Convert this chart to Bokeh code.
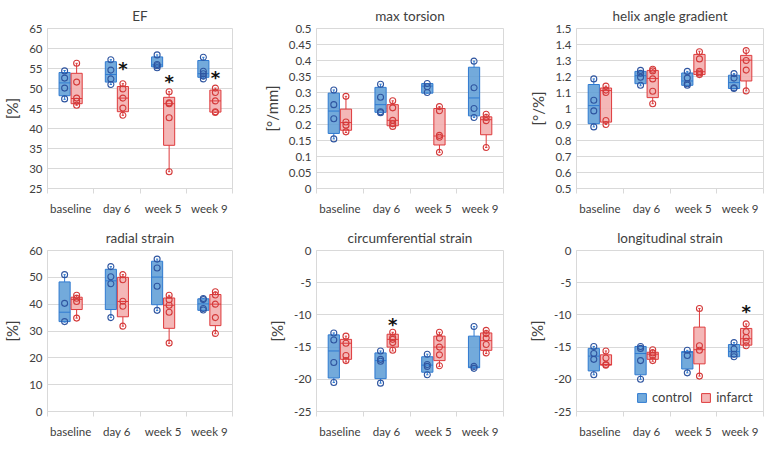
from bokeh.plotting import figure
from bokeh.layouts import gridplot
from bokeh.models import (FixedTicker, CustomJSTickFormatter, Range1d, Legend, LegendItem)
from bokeh.core.properties import value
from bokeh.embed import file_html
from bokeh.resources import INLINE

CATEGORIES = ["baseline", "day 6", "week 5", "week 9"]

# box stats per category: (low, q1, median, q3, high)
EF_CTRL_BOX = [(47.3, 48.2, 51.4, 54.0, 54.5), (51.0, 51.6, 53.5, 56.7, 57.2),
               (55.1, 55.4, 55.9, 57.9, 58.4), (52.4, 52.8, 53.7, 57.0, 57.8)]
EF_CTRL_PTS = [[54.4, 52.6, 50.1, 47.4], [57.2, 54.6, 52.4, 51.0],
               [58.4, 56.0, 55.7, 55.2], [57.8, 54.3, 53.7, 53.1, 52.4]]
EF_INF_BOX = [(45.8, 46.2, 47.5, 53.8, 56.3), (43.3, 44.2, 47.6, 50.5, 51.2),
              (29.2, 35.8, 46.2, 47.8, 49.2), (44.0, 44.1, 46.9, 49.6, 50.1)]
EF_INF_PTS = [[56.3, 51.6, 47.6, 46.8, 45.8], [51.2, 49.9, 47.6, 45.1, 43.3],
              [49.2, 46.4, 46.2, 42.7, 29.2], [50.1, 49.0, 46.9, 44.2, 44.0]]
EF_STARS = [(1, 56.0), (2, 52.8), (3, 53.7)]

TOR_CTRL_BOX = [(0.155, 0.172, 0.242, 0.298, 0.308), (0.237, 0.238, 0.262, 0.316, 0.326),
                (0.298, 0.298, 0.320, 0.328, 0.328), (0.222, 0.227, 0.283, 0.379, 0.398)]
TOR_CTRL_PTS = [[0.308, 0.262, 0.218, 0.155], [0.326, 0.285, 0.240, 0.237],
                [0.328, 0.318, 0.300], [0.398, 0.315, 0.250, 0.222]]
TOR_INF_BOX = [(0.175, 0.182, 0.206, 0.248, 0.288), (0.194, 0.196, 0.213, 0.262, 0.274),
               (0.113, 0.136, 0.164, 0.250, 0.256), (0.128, 0.168, 0.215, 0.224, 0.232)]
TOR_INF_PTS = [[0.288, 0.208, 0.198, 0.177], [0.274, 0.252, 0.213, 0.202, 0.194],
               [0.256, 0.243, 0.166, 0.160, 0.113], [0.232, 0.222, 0.212, 0.128]]

HEL_CTRL_BOX = [(0.885, 0.905, 1.018, 1.150, 1.185), (1.142, 1.155, 1.205, 1.232, 1.238),
                (1.142, 1.145, 1.172, 1.222, 1.232), (1.122, 1.125, 1.162, 1.208, 1.218)]
HEL_CTRL_PTS = [[1.185, 1.052, 0.985, 0.885], [1.238, 1.220, 1.195, 1.145],
                [1.232, 1.190, 1.155, 1.145], [1.218, 1.190, 1.130, 1.125]]
HEL_INF_BOX = [(0.900, 0.915, 1.112, 1.128, 1.140), (1.030, 1.068, 1.188, 1.238, 1.245),
               (1.210, 1.212, 1.230, 1.338, 1.358), (1.110, 1.172, 1.302, 1.332, 1.365)]
HEL_INF_PTS = [[1.140, 1.115, 1.100, 0.925, 0.900], [1.245, 1.235, 1.185, 1.108, 1.030],
               [1.355, 1.310, 1.232, 1.222, 1.212], [1.362, 1.300, 1.240, 1.110]]

RAD_CTRL_BOX = [(33.3, 33.5, 37.0, 48.3, 51.0), (35.0, 38.0, 48.7, 53.0, 54.0),
                (37.6, 39.8, 50.1, 56.0, 56.8), (37.5, 37.7, 40.1, 42.0, 42.1)]
RAD_CTRL_PTS = [[51.0, 40.3, 33.5], [54.0, 50.2, 47.6, 35.0],
                [56.8, 53.5, 46.7, 37.7], [42.1, 41.7, 38.4, 37.8]]
RAD_INF_BOX = [(34.8, 38.0, 41.8, 42.6, 43.3), (31.8, 35.3, 41.0, 50.0, 51.0),
               (25.4, 31.0, 39.6, 42.3, 43.3), (29.0, 32.0, 40.0, 43.6, 44.6)]
RAD_INF_PTS = [[43.3, 42.2, 41.0, 34.8], [51.0, 49.1, 41.1, 39.2, 31.8],
               [43.3, 41.6, 39.6, 37.0, 25.5], [44.6, 43.4, 40.0, 35.0, 29.1]]

CIR_CTRL_BOX = [(-20.5, -19.8, -15.6, -13.1, -12.8), (-20.6, -19.9, -17.1, -15.9, -15.6),
                (-19.3, -18.9, -17.8, -16.5, -16.1), (-18.3, -18.2, -18.1, -13.3, -11.8)]
CIR_CTRL_PTS = [[-12.8, -13.9, -17.4, -20.5], [-15.6, -16.9, -17.2, -20.6],
                [-16.1, -17.7, -18.0, -19.3], [-11.8, -18.0, -18.3]]
CIR_INF_BOX = [(-17.3, -16.9, -14.4, -13.8, -13.3), (-15.6, -15.0, -13.8, -13.0, -12.7),
               (-18.0, -17.1, -15.0, -13.3, -12.7), (-16.0, -15.5, -14.0, -12.8, -12.4)]
CIR_INF_PTS = [[-13.3, -14.4, -16.3, -17.1], [-12.7, -13.5, -13.8, -14.3, -15.5],
               [-12.7, -13.6, -15.0, -16.2, -17.9], [-12.4, -12.9, -13.6, -14.6, -15.9]]
CIR_STARS = [(1, -10.9)]

LON_CTRL_BOX = [(-19.3, -18.7, -16.4, -15.2, -14.9), (-20.0, -19.3, -16.0, -14.9, -14.9),
                (-19.0, -18.4, -15.8, -15.7, -15.5), (-16.5, -16.5, -15.7, -14.6, -14.3)]
LON_CTRL_PTS = [[-14.9, -16.0, -16.9, -19.3], [-14.9, -15.2, -17.1, -20.0],
                [-15.5, -16.3, -19.0], [-14.3, -15.3, -16.1, -16.5]]
LON_INF_BOX = [(-17.9, -17.8, -17.7, -16.2, -15.6), (-17.2, -16.9, -16.1, -15.8, -15.4),
               (-19.5, -17.6, -15.4, -11.9, -9.0), (-14.8, -14.7, -13.7, -12.1, -11.4)]
LON_INF_PTS = [[-15.6, -16.7, -17.7, -17.8], [-15.4, -15.9, -16.3, -17.1],
               [-9.0, -14.8, -15.5, -19.5], [-11.4, -12.6, -13.5, -14.1, -14.8]]
LON_STARS = [(3, -8.8)]

FONT = "Lato"
TXT = "#404040"
GRID = "#d9d9d9"
CTRL_FILL, CTRL_LINE, CTRL_PT = "#5b9bd5", "#2f7ad0", "#2f55a0"
INF_FILL, INF_LINE, INF_PT = "#f2aaaa", "#de3a3c", "#d43a3a"
BW = 0.24
CW = 0.05


def tick_list(lo, hi, step):
    n = int(round((hi - lo) / step))
    return [round(lo + i * step, 4) for i in range(n + 1)]


def draw_group(p, box, pts, off, fill, line, ptcol):
    xs = [i + 0.5 + off for i in range(len(box))]
    low = [b[0] for b in box]
    q1 = [b[1] for b in box]
    med = [b[2] for b in box]
    q3 = [b[3] for b in box]
    high = [b[4] for b in box]
    p.segment(x0=xs, y0=q3, x1=xs, y1=high, line_color=line, line_width=1)
    p.segment(x0=xs, y0=q1, x1=xs, y1=low, line_color=line, line_width=1)
    p.segment(x0=[x - CW / 2 for x in xs], y0=high, x1=[x + CW / 2 for x in xs], y1=high,
              line_color=line, line_width=1)
    p.segment(x0=[x - CW / 2 for x in xs], y0=low, x1=[x + CW / 2 for x in xs], y1=low,
              line_color=line, line_width=1)
    r = p.vbar(x=xs, width=BW, bottom=q1, top=q3, fill_color=fill, fill_alpha=0.85,
               line_color=line, line_width=1)
    p.segment(x0=[x - BW / 2 for x in xs], y0=med, x1=[x + BW / 2 for x in xs], y1=med,
              line_color=line, line_width=1)
    px, py = [], []
    for x, vals in zip(xs, pts):
        for v in vals:
            px.append(x)
            py.append(v)
    p.scatter(px, py, marker="circle", size=6, fill_alpha=0, line_color=ptcol, line_width=1.1)
    return r


def panel(title, ylabel, lo, hi, step, cbox, cpts, ibox, ipts, stars, w, h, bl, br, bt, bb,
          legend=False):
    p = figure(width=w, height=h, output_backend="svg", toolbar_location=None,
               x_range=Range1d(0, 4), y_range=Range1d(lo, hi),
               min_border_left=bl, min_border_right=br, min_border_top=bt, min_border_bottom=bb)
    p.title.text = title
    p.title.align = "center"
    p.title.text_font = FONT
    p.title.text_font_size = "13.5px"
    p.title.text_font_style = "normal"
    p.title.text_color = TXT
    p.outline_line_color = GRID
    p.background_fill_color = "white"
    p.border_fill_color = "white"
    p.xgrid.visible = False
    p.ygrid.grid_line_color = GRID
    p.ygrid.grid_line_width = 1.2

    ticks = tick_list(lo, hi, step)
    p.yaxis.ticker = FixedTicker(ticks=ticks)
    p.ygrid.ticker = FixedTicker(ticks=ticks)
    p.yaxis.formatter = CustomJSTickFormatter(code="return String(Math.round(tick*1000)/1000);")
    p.yaxis.axis_label = ylabel
    p.yaxis.axis_label_text_font = FONT
    p.yaxis.axis_label_text_font_size = "15px"
    p.yaxis.axis_label_text_font_style = "normal"
    p.yaxis.axis_label_text_color = TXT
    p.yaxis.axis_label_standoff = 5
    p.yaxis.major_label_text_font = FONT
    p.yaxis.major_label_text_font_size = "11.5px"
    p.yaxis.major_label_text_color = TXT
    p.yaxis.axis_line_color = GRID
    p.yaxis.major_tick_line_color = None
    p.yaxis.major_tick_out = 0
    p.yaxis.minor_tick_line_color = None
    p.yaxis.minor_tick_out = 0
    p.yaxis.major_label_standoff = 5

    p.xaxis.ticker = FixedTicker(ticks=[i + 0.5 for i in range(len(CATEGORIES))],
                                 minor_ticks=list(range(len(CATEGORIES) + 1)))
    p.xaxis.formatter = CustomJSTickFormatter(args=dict(cats=CATEGORIES),
                                              code="return cats[Math.floor(tick)];")
    p.xaxis.major_label_text_font = FONT
    p.xaxis.major_label_text_font_size = "11.5px"
    p.xaxis.major_label_text_color = TXT
    p.xaxis.axis_line_color = GRID
    p.xaxis.major_tick_line_color = None
    p.xaxis.major_tick_out = 0
    p.xaxis.minor_tick_line_color = GRID
    p.xaxis.minor_tick_out = 5
    p.xaxis.minor_tick_in = 0
    p.xaxis.major_label_standoff = 8

    rc = draw_group(p, cbox, cpts, -0.13, CTRL_FILL, CTRL_LINE, CTRL_PT)
    ri = draw_group(p, ibox, ipts, 0.13, INF_FILL, INF_LINE, INF_PT)

    if stars:
        p.text(x=[s[0] + 0.5 + 0.13 for s in stars], y=[s[1] for s in stars],
               text=["*"] * len(stars), text_align="center", text_baseline="middle",
               text_font=value("DejaVu Sans"), text_font_size="18px", text_font_style="bold",
               text_color="#111111", y_offset=4)

    if legend:
        lg = Legend(items=[LegendItem(label="control", renderers=[rc]),
                           LegendItem(label="infarct", renderers=[ri])],
                    orientation="horizontal", location=(58, 4),
                    label_text_font=FONT, label_text_font_size="13px",
                    label_text_color=TXT, glyph_width=11, glyph_height=11,
                    label_height=16, spacing=8, padding=2, label_standoff=5,
                    border_line_alpha=0, background_fill_alpha=0)
        p.add_layout(lg, "center")
    return p


W = 255
H1, H2 = 218, 222
p1 = panel("EF", "[%]", 25, 65, 5, EF_CTRL_BOX, EF_CTRL_PTS, EF_INF_BOX, EF_INF_PTS,
           EF_STARS, W, H1, 36, 23, 20, 30)
p2 = panel("max torsion", "[°/mm]", 0, 0.5, 0.05, TOR_CTRL_BOX, TOR_CTRL_PTS, TOR_INF_BOX,
           TOR_INF_PTS, [], W, H1, 61, 7, 20, 30)
p3 = panel("helix angle gradient", "[°/%]", 0.5, 1.5, 0.1, HEL_CTRL_BOX, HEL_CTRL_PTS,
           HEL_INF_BOX, HEL_INF_PTS, [], W, H1, 66, 2, 20, 30)
p4 = panel("radial strain", "[%]", 0, 60, 10, RAD_CTRL_BOX, RAD_CTRL_PTS, RAD_INF_BOX,
           RAD_INF_PTS, [], W, H2, 36, 23, 32, 22)
p5 = panel("circumferential strain", "[%]", -25, 0, 5, CIR_CTRL_BOX, CIR_CTRL_PTS,
           CIR_INF_BOX, CIR_INF_PTS, CIR_STARS, W, H2, 57, 7, 32, 22)
p6 = panel("longitudinal strain", "[%]", -25, 0, 5, LON_CTRL_BOX, LON_CTRL_PTS, LON_INF_BOX,
           LON_INF_PTS, LON_STARS, W, H2, 66, 2, 32, 22, legend=True)

grid = gridplot([[p1, p2, p3], [p4, p5, p6]], toolbar_location=None)

open("out.html", "w").write(file_html(grid, INLINE))
